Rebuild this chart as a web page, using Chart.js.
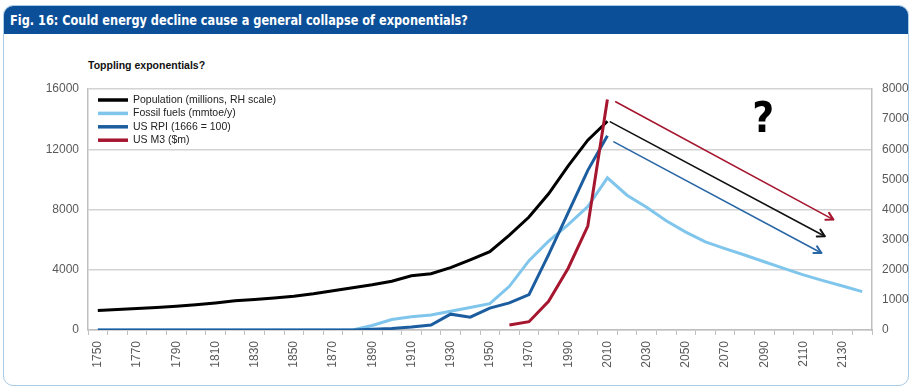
<!DOCTYPE html>
<html><head><meta charset="utf-8">
<script src="https://cdn.jsdelivr.net/npm/chart.js@4.4.1/dist/chart.umd.min.js"></script>
<style>
html,body{margin:0;padding:0;background:#fff;width:912px;height:391px;overflow:hidden;}
#frame{position:absolute;left:3px;top:5px;width:906px;height:381px;box-sizing:border-box;border:1.5px solid #a9cbe8;border-radius:10px;background:#fff;overflow:hidden;}
#hdr{position:absolute;left:0;top:0;right:0;height:28px;background:#0b4f98;}
#title{position:absolute;left:10px;top:12px;color:#fff;font:bold 14px "Liberation Sans Narrow","DejaVu Sans Condensed",sans-serif;white-space:nowrap;transform:scaleX(0.9);transform-origin:0 0;}
#sub{position:absolute;left:88px;top:59px;font:bold 10.5px "Liberation Sans",sans-serif;color:#111;white-space:nowrap;}
#wrap{position:absolute;left:0;top:0;width:912px;height:391px;}
</style></head><body>
<div id="frame"><div id="hdr"></div></div>
<div id="title">Fig. 16: Could energy decline cause a general collapse of exponentials?</div>
<div id="sub">Toppling exponentials?</div>
<div id="wrap"><canvas id="c" width="912" height="391"></canvas></div>
<script>
// ---- data ----
const years = [1750,1760,1770,1780,1790,1800,1810,1820,1830,1840,1850,1860,1870,1880,1890,1900,1910,1920,1930,1940,1950,1960,1970,1980,1990,2000,2010,2020,2030,2040,2050,2060,2070,2080,2090,2100,2110,2120,2130,2140];
// Population, millions (right-hand scale)
const population = [650,680,710,745,790,840,900,967,1010,1060,1120,1200,1300,1400,1500,1620,1800,1870,2070,2330,2600,3150,3750,4520,5450,6300,6930,null,null,null,null,null,null,null,null,null,null,null,null,null];
// Fossil fuels, mmtoe/y (left scale)
const fossilFuels = [0,0,0,0,0,0,0,0,0,0,0,0,0,0,300,700,880,1000,1250,1500,1750,2900,4600,5900,7000,8200,10100,8950,8150,7250,6500,5850,5400,4980,4530,4090,3660,3280,2920,2550];
// US RPI (1666 = 100) (left scale)
const usRPI = [0,0,0,0,0,0,0,0,0,0,0,0,0,0,50,100,200,330,1050,850,1450,1800,2350,5000,7800,10600,12900,null,null,null,null,null,null,null,null,null,null,null,null,null];
// US M3 ($m) (left scale)
const usM3 = [null,null,null,null,null,null,null,null,null,null,null,null,null,null,null,null,null,null,null,null,null,330,550,1900,4100,6900,15300,null,null,null,null,null,null,null,null,null,null,null,null,null];
const leftTicks = [0,4000,8000,12000,16000];
const rightTicks = [0,1000,2000,3000,4000,5000,6000,7000,8000];
// hand-drawn projection arrows: [startYear, startValue(left scale), endYear, endValue]
const arrowM3  = [2014.2, 15150, 2125.3, 7330];
const arrowPop = [2011.5, 13820, 2120.9, 6220];
const arrowRPI = [2013.3, 12490, 2119.2, 5110];
const questionMark = [2089.5, 13870];

const C = {pop:'#000000', fossil:'#80c6ec', rpi:'#1c5d9f', m3:'#a6162f', grid:'#d3d3d3', axis:'#bfbfbf', text:'#595959'};
const tickFont = {family:'"Liberation Sans", Arial, sans-serif', size:12};

const yearToIdx = y => (y - years[0]) / 10;

const overlay = {
  id:'overlay',
  afterDatasetsDraw(chart){
    const ctx = chart.ctx, xs = chart.scales.x, ys = chart.scales.y, a = chart.chartArea;
    const arrows = [[arrowM3, C.m3],[arrowPop, '#111'],[arrowRPI, '#2a67a6']];
    arrows.forEach(([ar, col]) => {
      const x1 = xs.getPixelForValue(yearToIdx(ar[0])), y1 = ys.getPixelForValue(ar[1]);
      const x2 = xs.getPixelForValue(yearToIdx(ar[2])), y2 = ys.getPixelForValue(ar[3]);
      ctx.save();
      ctx.strokeStyle = col; ctx.lineWidth = 1.6; ctx.lineCap='round'; ctx.lineJoin='round';
      ctx.beginPath(); ctx.moveTo(x1,y1); ctx.lineTo(x2,y2); ctx.stroke();
      const ang = Math.atan2(y2-y1, x2-x1), L = 8, sp = 0.5;
      ctx.lineWidth = 2;
      ctx.beginPath();
      ctx.moveTo(x2 - L*Math.cos(ang - sp), y2 - L*Math.sin(ang - sp));
      ctx.lineTo(x2, y2);
      ctx.lineTo(x2 - L*Math.cos(ang + sp), y2 - L*Math.sin(ang + sp));
      ctx.stroke();
      ctx.restore();
    });
    ctx.save();
    ctx.fillStyle = '#000';
    ctx.font = 'bold 42px "Liberation Sans Narrow", "DejaVu Sans Condensed", sans-serif';
    ctx.textAlign = 'center'; ctx.textBaseline = 'middle';
    ctx.fillText('?', xs.getPixelForValue(yearToIdx(questionMark[0])), ys.getPixelForValue(questionMark[1]));
    ctx.restore();
    ctx.save();
    ctx.font = '10.5px "Liberation Sans", Arial, sans-serif';
    ctx.textBaseline = 'middle'; ctx.textAlign = 'left';
    chart.data.datasets.forEach((ds, i) => {
      const yy = a.top + 11 + i*13.4;
      ctx.strokeStyle = ds.borderColor; ctx.lineWidth = 3.5; ctx.lineCap='butt';
      ctx.beginPath(); ctx.moveTo(a.left + 10, yy); ctx.lineTo(a.left + 40, yy); ctx.stroke();
      ctx.fillStyle = '#222';
      ctx.fillText(ds.label, a.left + 45, yy);
    });
    ctx.restore();
  }
};

new Chart(document.getElementById('c'), {
  type:'line',
  data:{
    labels: years.map(String),
    datasets:[
      {label:'Population (millions, RH scale)', data:population, borderColor:C.pop, yAxisID:'y2', order:2},
      {label:'Fossil fuels (mmtoe/y)', data:fossilFuels, borderColor:C.fossil, yAxisID:'y', order:3},
      {label:'US RPI (1666 = 100)', data:usRPI, borderColor:C.rpi, yAxisID:'y', order:1},
      {label:'US M3 ($m)', data:usM3, borderColor:C.m3, yAxisID:'y', order:0}
    ]
  },
  options:{
    responsive:false, animation:false, devicePixelRatio:1,
    elements:{line:{borderWidth:3, tension:0, fill:false}, point:{radius:0, hoverRadius:0}},
    layout:{padding:{top:89, left:0, right:0, bottom:0}},
    plugins:{legend:{display:false}, tooltip:{enabled:false}},
    scales:{
      x:{
        type:'category', offset:true,
        grid:{offset:true, drawOnChartArea:false, drawTicks:true, tickLength:5, color:C.axis},
        border:{color:C.axis, width:1.5},
        ticks:{autoSkip:false, maxRotation:90, minRotation:90, padding:6, color:C.text, font:tickFont,
          callback:(v,i)=> i%2===0 ? String(years[i]) : ''},
        afterFit(s){ s.height = 61; }
      },
      y:{
        position:'left', min:0, max:16000,
        afterBuildTicks(s){ s.ticks = leftTicks.map(v=>({value:v})); },
        grid:{color:C.grid, lineWidth:1.5, drawTicks:false},
        border:{color:C.axis, width:1.5},
        ticks:{padding:9, color:C.text, font:tickFont, callback:v=>String(v)},
        afterFit(s){ s.width = 88; }
      },
      y2:{
        position:'right', min:0, max:8000,
        afterBuildTicks(s){ s.ticks = rightTicks.map(v=>({value:v})); },
        grid:{drawOnChartArea:false, drawTicks:false},
        border:{color:C.axis, width:1.5},
        ticks:{padding:10, color:C.text, font:tickFont, callback:v=>String(v)},
        afterFit(s){ s.width = 40; }
      }
    }
  },
  plugins:[overlay]
});
</script>
</body></html>
